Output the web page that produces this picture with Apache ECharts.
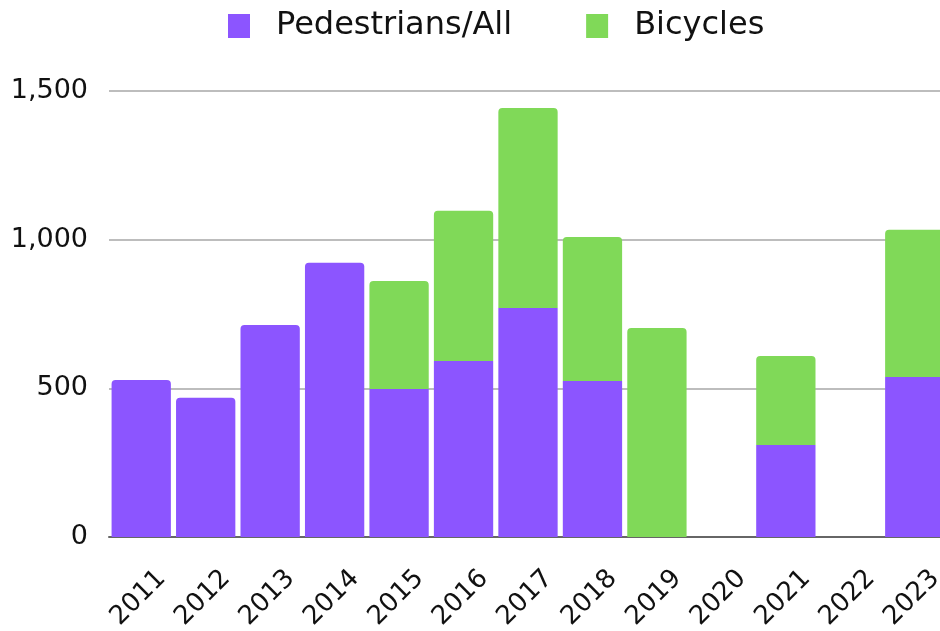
<!DOCTYPE html>
<html>
<head>
<meta charset="utf-8">
<script src="https://cdn.jsdelivr.net/npm/echarts@6/dist/echarts.min.js"></script>
<style>
  html, body { margin: 0; padding: 0; background: #fff; }
  #chart { width: 940px; height: 631px; }
</style>
</head>
<body>
<div id="chart"></div>
<script>
var years = ['2011', '2012', '2013', '2014', '2015', '2016', '2017', '2018', '2019', '2020', '2021', '2022', '2023'];
var pedestrians = [528, 468, 713, 922, 498, 592, 770, 525, 0, 0, 309, 0, 538];
var bicycles = [0, 0, 0, 0, 363, 505, 673, 484, 703, 0, 300, 0, 495];
var yTicks = [0, 500, 1000, 1500];

var font = '"DejaVu Sans", sans-serif';
var purple = '#8c55ff';
var green = '#80d958';

var chart = echarts.init(document.getElementById('chart'));

// only the top segment of each stack gets rounded corners
var pedData = pedestrians.map(function (v, i) {
  return { value: v, itemStyle: { borderRadius: bicycles[i] > 0 ? 0 : [4, 4, 0, 0] } };
});

chart.setOption({
  animation: false,
  legend: {
    top: 10,
    left: 228,
    padding: 0,
    itemWidth: 22,
    itemHeight: 24,
    itemGap: 74,
    icon: 'rect',
    textStyle: { fontFamily: font, fontSize: 32, lineHeight: 32, color: '#111', padding: [0, 0, 0, 21] },
    data: ['Pedestrians/All', 'Bicycles']
  },
  grid: { left: 109, top: 91, width: 838, height: 446, outerBoundsMode: 'none', containLabel: false },
  xAxis: {
    type: 'category',
    data: years,
    axisTick: { show: false },
    axisLine: { lineStyle: { color: '#666', width: 2 } },
    axisLabel: {
      rotate: 45, margin: 58, align: 'center', verticalAlign: 'middle', padding: [0, 8, 12, 0],
      fontFamily: font, fontSize: 26, color: '#111', interval: 0
    }
  },
  yAxis: {
    type: 'value',
    min: yTicks[0],
    max: yTicks[yTicks.length - 1],
    interval: 500,
    axisLine: { show: false },
    axisTick: { show: false },
    splitLine: { lineStyle: { color: '#bdbdbd', width: 2 } },
    axisLabel: {
      margin: 21, fontFamily: font, fontSize: 27, color: '#111', padding: [8, 0, 0, 0],
      formatter: function (v) { return v.toLocaleString('en-US'); }
    }
  },
  series: [
    {
      name: 'Pedestrians/All',
      type: 'bar',
      stack: 'total',
      barCategoryGap: '8%',
      itemStyle: { color: purple },
      data: pedData
    },
    {
      name: 'Bicycles',
      type: 'bar',
      stack: 'total',
      itemStyle: { color: green, borderRadius: [4, 4, 0, 0] },
      data: bicycles
    }
  ]
});
</script>
</body>
</html>
